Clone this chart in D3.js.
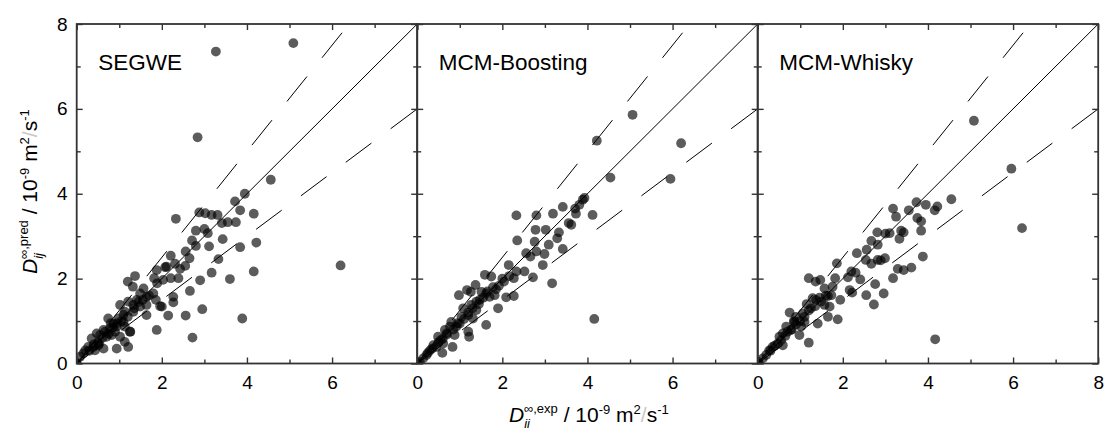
<!DOCTYPE html>
<html>
<head>
<meta charset="utf-8">
<script src="https://cdn.jsdelivr.net/npm/d3@7"></script>
<style>
  body { margin: 0; background: #fff; }
  text { font-family: "Liberation Sans", Arial, sans-serif; }
</style>
</head>
<body>
<svg id="chart" width="1104" height="432"></svg>
<script>
// panel titles
const panelNames = ["SEGWE", "MCM-Boosting", "MCM-Whisky"];

// [D_exp, D_pred] pairs
const segwePoints = [
  [6.20, 2.31], [3.89, 1.06], [2.72, 0.61], [1.88, 0.79], [0.94, 0.35], [1.21, 0.39],
  [1.13, 0.51], [1.26, 0.75], [2.15, 1.13], [2.56, 1.13], [2.95, 1.28], [2.66, 1.71],
  [2.90, 1.96], [2.27, 1.57], [2.27, 1.44], [2.00, 1.34], [3.17, 2.14], [3.60, 1.99],
  [4.16, 2.17], [4.22, 2.85], [3.84, 2.74], [3.33, 2.46], [3.11, 2.76], [3.43, 2.93],
  [4.16, 3.53], [3.84, 3.61], [3.74, 3.33], [3.72, 3.82], [3.95, 4.00], [3.55, 3.33],
  [3.41, 3.31], [3.31, 3.50], [3.17, 3.50], [3.02, 3.54], [2.88, 3.56], [3.00, 3.17],
  [3.08, 3.07], [2.80, 3.13], [2.71, 2.90], [2.80, 2.77], [2.33, 3.41], [2.56, 2.64],
  [2.65, 2.48], [2.55, 2.30], [2.43, 2.23], [2.21, 2.54], [2.31, 2.35], [2.39, 2.01],
  [2.21, 2.01], [2.08, 2.27], [1.88, 2.20], [1.82, 2.01], [1.89, 1.89], [2.03, 1.97],
  [1.96, 1.35], [1.86, 1.50], [1.80, 1.65], [1.64, 1.57], [1.64, 1.14], [1.37, 2.06],
  [1.20, 1.93], [1.32, 1.81], [1.57, 1.77], [1.49, 1.65], [1.41, 1.50], [1.21, 1.46],
  [1.33, 1.38], [1.49, 1.34], [1.64, 1.38], [1.02, 1.38], [1.13, 1.22], [1.33, 1.22],
  [0.98, 1.06], [0.74, 1.06], [0.86, 0.94], [0.94, 0.87], [0.78, 0.83], [0.67, 0.75],
  [0.90, 0.75], [1.02, 0.63], [0.55, 0.67], [0.47, 0.71], [0.35, 0.59], [0.27, 0.39],
  [0.39, 0.39], [0.51, 0.43], [0.63, 0.35], [0.20, 0.31], [0.43, 0.31], [0.08, 0.16],
  [0.16, 0.24], [0.53, 0.47], [1.10, 0.98], [1.13, 0.87], [0.63, 0.79], [0.70, 0.63],
  [0.82, 0.67], [0.00, 0.00], [0.00, 0.00], [2.11, 2.28], [1.25, 0.75],
  [0.60, 0.60], [0.75, 0.70], [0.85, 0.85], [0.95, 0.95], [1.05, 1.00], [1.20, 1.10],
  [1.35, 1.30], [1.45, 1.45], [1.55, 1.50], [1.70, 1.60], [0.40, 0.45], [0.30, 0.30],
  [0.50, 0.50], [0.80, 0.95], [1.10, 1.15],
  [3.27, 7.35], [5.09, 7.55], [2.84, 5.33], [4.56, 4.33]
];

const boostingPoints = [
  [4.16, 1.05], [2.33, 3.49], [2.80, 3.49], [3.19, 3.53], [3.42, 3.69], [3.71, 3.65],
  [3.81, 3.74], [3.89, 3.86], [3.73, 3.53], [3.56, 3.31], [3.62, 3.27], [4.12, 3.50],
  [2.78, 3.15], [3.02, 3.15], [3.33, 3.09], [3.29, 2.95], [3.09, 2.80], [3.42, 2.70],
  [2.76, 2.87], [2.35, 2.90], [2.56, 2.60], [2.66, 2.52], [2.80, 2.64], [2.99, 2.58],
  [2.95, 2.32], [2.15, 2.32], [2.33, 2.17], [2.52, 2.17], [2.72, 2.03], [3.17, 1.89],
  [2.27, 2.01], [2.16, 2.06], [2.04, 1.93], [2.09, 1.56], [2.27, 1.59], [1.92, 1.83],
  [1.78, 1.80], [1.74, 2.05], [1.59, 2.09], [1.37, 1.85], [1.26, 1.69], [1.51, 1.69],
  [1.62, 1.65], [1.90, 1.30], [1.62, 0.91], [0.98, 1.61], [1.27, 1.38], [1.39, 1.46],
  [1.08, 1.30], [1.20, 1.14], [1.31, 1.06], [1.17, 1.73], [1.22, 0.63], [1.20, 0.75],
  [0.80, 0.98], [0.77, 0.87], [0.92, 0.87], [0.88, 0.67], [1.00, 0.94], [0.65, 0.79],
  [0.83, 0.39], [0.59, 0.25], [0.55, 0.55], [0.49, 0.63], [0.38, 0.43], [0.30, 0.31],
  [0.22, 0.20], [0.14, 0.12], [0.45, 0.39], [0.61, 0.47], [0.69, 0.71], [1.04, 1.10],
  [1.39, 1.26], [1.47, 1.50], [1.70, 1.57], [1.82, 1.61], [0.06, 0.04], [0.00, 0.00],
  [0.00, 0.00],
  [0.50, 0.50], [0.60, 0.58], [0.70, 0.68], [0.85, 0.80], [0.95, 0.95], [1.10, 1.05],
  [1.20, 1.20], [1.30, 1.30], [1.45, 1.40], [1.55, 1.55], [1.65, 1.70], [1.85, 1.75],
  [2.00, 2.00], [0.35, 0.35], [0.25, 0.25],
  [5.06, 5.86], [6.20, 5.19], [4.22, 5.25], [4.54, 4.38], [5.95, 4.35], [3.93, 3.90]
];

const whiskyPoints = [
  [6.21, 3.19], [4.17, 0.57], [4.55, 3.87], [4.22, 3.70], [4.16, 3.61], [3.95, 3.74],
  [3.73, 3.80], [3.75, 3.43], [3.84, 3.35], [3.84, 3.13], [3.55, 3.61], [3.18, 3.65],
  [3.25, 3.46], [3.37, 3.13], [3.43, 3.09], [3.33, 2.94], [3.10, 3.07], [3.00, 3.06],
  [2.81, 3.09], [2.67, 2.89], [2.82, 2.80], [2.56, 2.68], [2.33, 2.60], [2.54, 2.44],
  [2.67, 2.35], [2.82, 2.44], [2.89, 2.43], [2.99, 2.48], [3.88, 2.52], [3.61, 2.26],
  [3.43, 2.20], [3.29, 2.23], [3.18, 2.01], [2.76, 1.87], [2.96, 1.65], [2.55, 1.61],
  [2.73, 1.39], [2.22, 1.67], [2.16, 1.73], [2.41, 1.98], [2.20, 2.17], [2.12, 2.03],
  [2.30, 2.14], [1.86, 2.36], [1.82, 2.01], [1.76, 1.81], [1.94, 1.50], [1.88, 1.04],
  [1.20, 2.01], [1.36, 1.93], [1.47, 1.97], [1.57, 1.77], [1.65, 1.59], [1.49, 1.46],
  [1.69, 1.34], [1.65, 1.10], [1.37, 1.50], [1.25, 1.30], [1.29, 1.54], [1.20, 0.49],
  [1.41, 0.94], [0.75, 1.20], [0.86, 0.98], [1.02, 0.87], [0.98, 0.67], [0.78, 0.79],
  [0.67, 0.87], [0.59, 0.71], [0.51, 0.63], [0.47, 0.47], [0.35, 0.39], [0.27, 0.31],
  [0.20, 0.20], [0.12, 0.12], [0.59, 0.43], [1.10, 0.98], [1.06, 1.18], [0.90, 1.10],
  [1.57, 1.38], [1.73, 1.61], [0.02, 0.04], [0.00, 0.00], [0.00, 0.00],
  [0.40, 0.42], [0.55, 0.55], [0.65, 0.65], [0.80, 0.80], [0.90, 0.92], [1.00, 1.00],
  [1.10, 1.10], [1.20, 1.25], [1.35, 1.35], [1.45, 1.55], [0.30, 0.30], [0.85, 1.00],
  [1.15, 1.40], [1.60, 1.60], [0.70, 0.75],
  [5.08, 5.72], [5.96, 4.59]
];

const panelPoints = [segwePoints, boostingPoints, whiskyPoints];

// axis ticks
const majorTicks = [0, 2, 4, 6, 8];
const minorTicks = [1, 3, 5, 7];
// slopes of the parity line and the +/-25 % bands
const guideSlopes = [1, 1.25, 0.75];

const svg = d3.select("#chart");

const panelW = 340.5;
const left0 = 76.7;
const plotTop = 24;
const plotBottom = 363.5;
const frameColor = "#333";

const y = d3.scaleLinear().domain([0, 8]).range([plotBottom, plotTop]);

panelNames.forEach((name, i) => {
  const x0 = left0 + i * panelW;
  const x = d3.scaleLinear().domain([0, 8]).range([x0, x0 + panelW]);
  const last = i === panelNames.length - 1;

  svg.append("clipPath").attr("id", "clip" + i)
    .append("rect")
    .attr("x", x0).attr("y", plotTop)
    .attr("width", panelW).attr("height", plotBottom - plotTop);

  const plot = svg.append("g").attr("clip-path", `url(#clip${i})`);

  // guide lines
  guideSlopes.forEach(s => {
    plot.append("line")
      .attr("x1", x(0)).attr("y1", y(0))
      .attr("x2", x(8)).attr("y2", y(8 * s))
      .attr("stroke", "#000")
      .attr("stroke-width", 1)
      .attr("stroke-dasharray", s === 1 ? null : "32,24");
  });

  // points
  plot.selectAll("circle")
    .data(panelPoints[i])
    .join("circle")
    .attr("cx", d => x(d[0]))
    .attr("cy", d => y(d[1]))
    .attr("r", 4.9)
    .attr("fill", "#000")
    .attr("fill-opacity", 0.64);

  // ticks, all pointing inwards
  const tickStyle = g => {
    g.select(".domain").remove();
    g.selectAll("line").attr("stroke", frameColor).attr("stroke-width", 1.4);
  };
  const labelStyle = g => g.selectAll("text")
    .attr("font-size", 19).attr("fill", "#000")
    .attr("font-family", "Liberation Sans, Arial, sans-serif");

  svg.append("g")
    .attr("transform", `translate(0,${plotBottom})`)
    .call(d3.axisBottom(x).tickValues(majorTicks).tickSize(-6).tickPadding(12)
      .tickFormat(d => (d === 8 && !last) ? "" : d))
    .call(tickStyle)
    .call(labelStyle);
  svg.append("g")
    .attr("transform", `translate(0,${plotBottom})`)
    .call(d3.axisBottom(x).tickValues(minorTicks).tickSize(-4).tickFormat(""))
    .call(tickStyle);

  svg.append("g")
    .attr("transform", `translate(0,${plotTop})`)
    .call(d3.axisTop(x).tickValues(majorTicks).tickSize(-6).tickFormat(""))
    .call(tickStyle);
  svg.append("g")
    .attr("transform", `translate(0,${plotTop})`)
    .call(d3.axisTop(x).tickValues(minorTicks).tickSize(-4).tickFormat(""))
    .call(tickStyle);

  svg.append("g")
    .attr("transform", `translate(${x0},0)`)
    .call(d3.axisLeft(y).tickValues(majorTicks).tickSize(-6).tickPadding(9)
      .tickFormat(d => i === 0 ? d : ""))
    .call(tickStyle)
    .call(labelStyle);
  svg.append("g")
    .attr("transform", `translate(${x0},0)`)
    .call(d3.axisLeft(y).tickValues(minorTicks).tickSize(-4).tickFormat(""))
    .call(tickStyle);

  svg.append("g")
    .attr("transform", `translate(${x0 + panelW},0)`)
    .call(d3.axisRight(y).tickValues(majorTicks).tickSize(-6).tickFormat(""))
    .call(tickStyle);
  svg.append("g")
    .attr("transform", `translate(${x0 + panelW},0)`)
    .call(d3.axisRight(y).tickValues(minorTicks).tickSize(-4).tickFormat(""))
    .call(tickStyle);

  // frame
  svg.append("rect")
    .attr("x", x0).attr("y", plotTop)
    .attr("width", panelW).attr("height", plotBottom - plotTop)
    .attr("fill", "none")
    .attr("stroke", frameColor)
    .attr("stroke-width", 1.8);

  // panel title
  svg.append("text")
    .attr("x", x0 + 21.5)
    .attr("y", 70)
    .attr("font-size", 22.5)
    .attr("fill", "#000")
    .text(name);
});

// axis titles: D with stacked sub/superscript, then the unit
function axisTitle(sel, sub, sup, subWidth) {
  sel.append("tspan").attr("font-style", "italic").text("D");
  sel.append("tspan").attr("font-style", "italic").attr("font-size", 13)
    .attr("dy", 6).text(sub);
  sel.append("tspan").attr("font-size", 13)
    .attr("dx", -subWidth).attr("dy", -15).text(sup);
  sel.append("tspan").attr("dy", 9).text(" / 10");
  sel.append("tspan").attr("font-size", 13).attr("dy", -8).text("-9");
  sel.append("tspan").attr("dy", 8).text(" m");
  sel.append("tspan").attr("font-size", 13).attr("dy", -8).text("2");
  sel.append("tspan").attr("dy", 8).attr("fill", "#c8c8c8").text("/");
  sel.append("tspan").text("s");
  sel.append("tspan").attr("font-size", 13).attr("dy", -8).text("-1");
}

svg.append("text")
  .attr("x", 509)
  .attr("y", 422)
  .attr("font-size", 21)
  .attr("fill", "#000")
  .call(axisTitle, "ii", "\u221E,exp", 6);

svg.append("text")
  .attr("transform", "translate(37,274) rotate(-90)")
  .attr("font-size", 21)
  .attr("fill", "#000")
  .call(axisTitle, "ij", "\u221E,pred", 6);
</script>
</body>
</html>
